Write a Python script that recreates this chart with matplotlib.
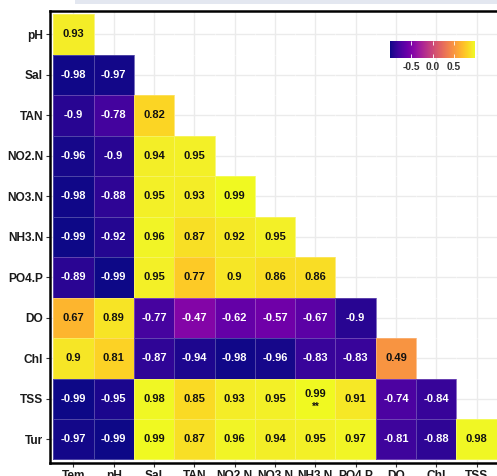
import numpy as np
import matplotlib
matplotlib.use('Agg')
import matplotlib.pyplot as plt
from matplotlib.patches import Rectangle

plt.rcParams['font.family'] = ['Liberation Sans', 'DejaVu Sans']

# lower-triangle correlation values, one list per row
row_labels = ['pH', 'Sal', 'TAN', 'NO2.N', 'NO3.N', 'NH3.N', 'PO4.P', 'DO', 'Chl', 'TSS', 'Tur']
col_labels = ['Tem', 'pH', 'Sal', 'TAN', 'NO2.N', 'NO3.N', 'NH3.N', 'PO4.P', 'DO', 'Chl', 'TSS']

r_pH = [0.93]
r_Sal = [-0.98, -0.97]
r_TAN = [-0.9, -0.78, 0.82]
r_NO2 = [-0.96, -0.9, 0.94, 0.95]
r_NO3 = [-0.98, -0.88, 0.95, 0.93, 0.99]
r_NH3 = [-0.99, -0.92, 0.96, 0.87, 0.92, 0.95]
r_PO4 = [-0.89, -0.99, 0.95, 0.77, 0.9, 0.86, 0.86]
r_DO = [0.67, 0.89, -0.77, -0.47, -0.62, -0.57, -0.67, -0.9]
r_Chl = [0.9, 0.81, -0.87, -0.94, -0.98, -0.96, -0.83, -0.83, 0.49]
r_TSS = [-0.99, -0.95, 0.98, 0.85, 0.93, 0.95, 0.99, 0.91, -0.74, -0.84]
r_Tur = [-0.97, -0.99, 0.99, 0.87, 0.96, 0.94, 0.95, 0.97, -0.81, -0.88, 0.98]
rows = [r_pH, r_Sal, r_TAN, r_NO2, r_NO3, r_NH3, r_PO4, r_DO, r_Chl, r_TSS, r_Tur]

# significance marks (row, col) -> label
signif = {(9, 6): '**'}

n = len(row_labels)
mat = np.full((n, n), np.nan)
for i, vals in enumerate(rows):
    mat[i, :len(vals)] = vals
masked = np.ma.masked_invalid(mat)

W, H = 497, 476
fig = plt.figure(figsize=(W / 100, H / 100), dpi=100)
fig.patch.set_facecolor('white')

# pale strip along the top edge
fig.patches.append(Rectangle((75 / W, 1 - 4 / H), 1, 4 / H, transform=fig.transFigure,
                             facecolor='#e3e7f0', edgecolor='none', zorder=0))

ax = fig.add_axes([50 / W, 13.3 / H, 450 / W, 451.7 / H])
ax.set_facecolor('white')

pad = 0.08
ax.set_xlim(-0.5 - pad, n - 0.5 + pad)
ax.set_ylim(n - 0.5 + pad, -0.5 - pad)

ax.set_axisbelow(True)
ax.grid(True, color='#ebebeb', linewidth=1.0)

vmin, vmax = -0.99, 0.99
x_edges = np.arange(n + 1) - 0.5
y_edges = np.arange(n + 1) - 0.5
mesh = ax.pcolormesh(x_edges, y_edges, masked, cmap='plasma', vmin=vmin, vmax=vmax,
                     edgecolors=(1, 1, 1, 0.25), linewidth=0.6, zorder=2)

for i in range(n):
    for j in range(n):
        v = mat[i, j]
        if np.isnan(v):
            continue
        txt = f'{v:g}'
        color = 'white' if v < 0 else '#111111'
        if (i, j) in signif:
            ax.text(j, i - 0.12, txt, ha='center', va='center', fontsize=8,
                    fontweight='bold', color=color, zorder=3)
            ax.text(j, i + 0.2, signif[(i, j)], ha='center', va='center', fontsize=7,
                    fontweight='bold', color=color, zorder=3)
        else:
            ax.text(j, i, txt, ha='center', va='center', fontsize=8,
                    fontweight='bold', color=color, zorder=3)

ax.set_xticks(range(n))
ax.set_xticklabels(col_labels)
ax.set_yticks(range(n))
ax.set_yticklabels(row_labels)
ax.tick_params(axis='both', length=3, width=0.8, color='#333333', labelsize=8.6,
               labelcolor='#1a1a1a', pad=2)
for lab in ax.get_xticklabels() + ax.get_yticklabels():
    lab.set_fontweight('bold')

for side in ['left', 'bottom', 'top']:
    ax.spines[side].set_linewidth(1.8)
    ax.spines[side].set_color('black')
ax.spines['right'].set_visible(False)

# horizontal colour bar inside the panel
cax = fig.add_axes([390 / W, 1 - 58 / H, 85 / W, 17 / H])
cb = fig.colorbar(mesh, cax=cax, orientation='horizontal', ticks=[-0.5, 0.0, 0.5])
cb.outline.set_visible(False)
cb.ax.set_xticklabels(['-0.5', '0.0', '0.5'])
cb.ax.tick_params(direction='in', length=3, width=0.6, color='white', labelsize=7.4,
                  labelcolor='#333333', pad=3, top=True)
for lab in cb.ax.get_xticklabels():
    lab.set_fontweight('bold')

fig.savefig('out.png', dpi=100)
